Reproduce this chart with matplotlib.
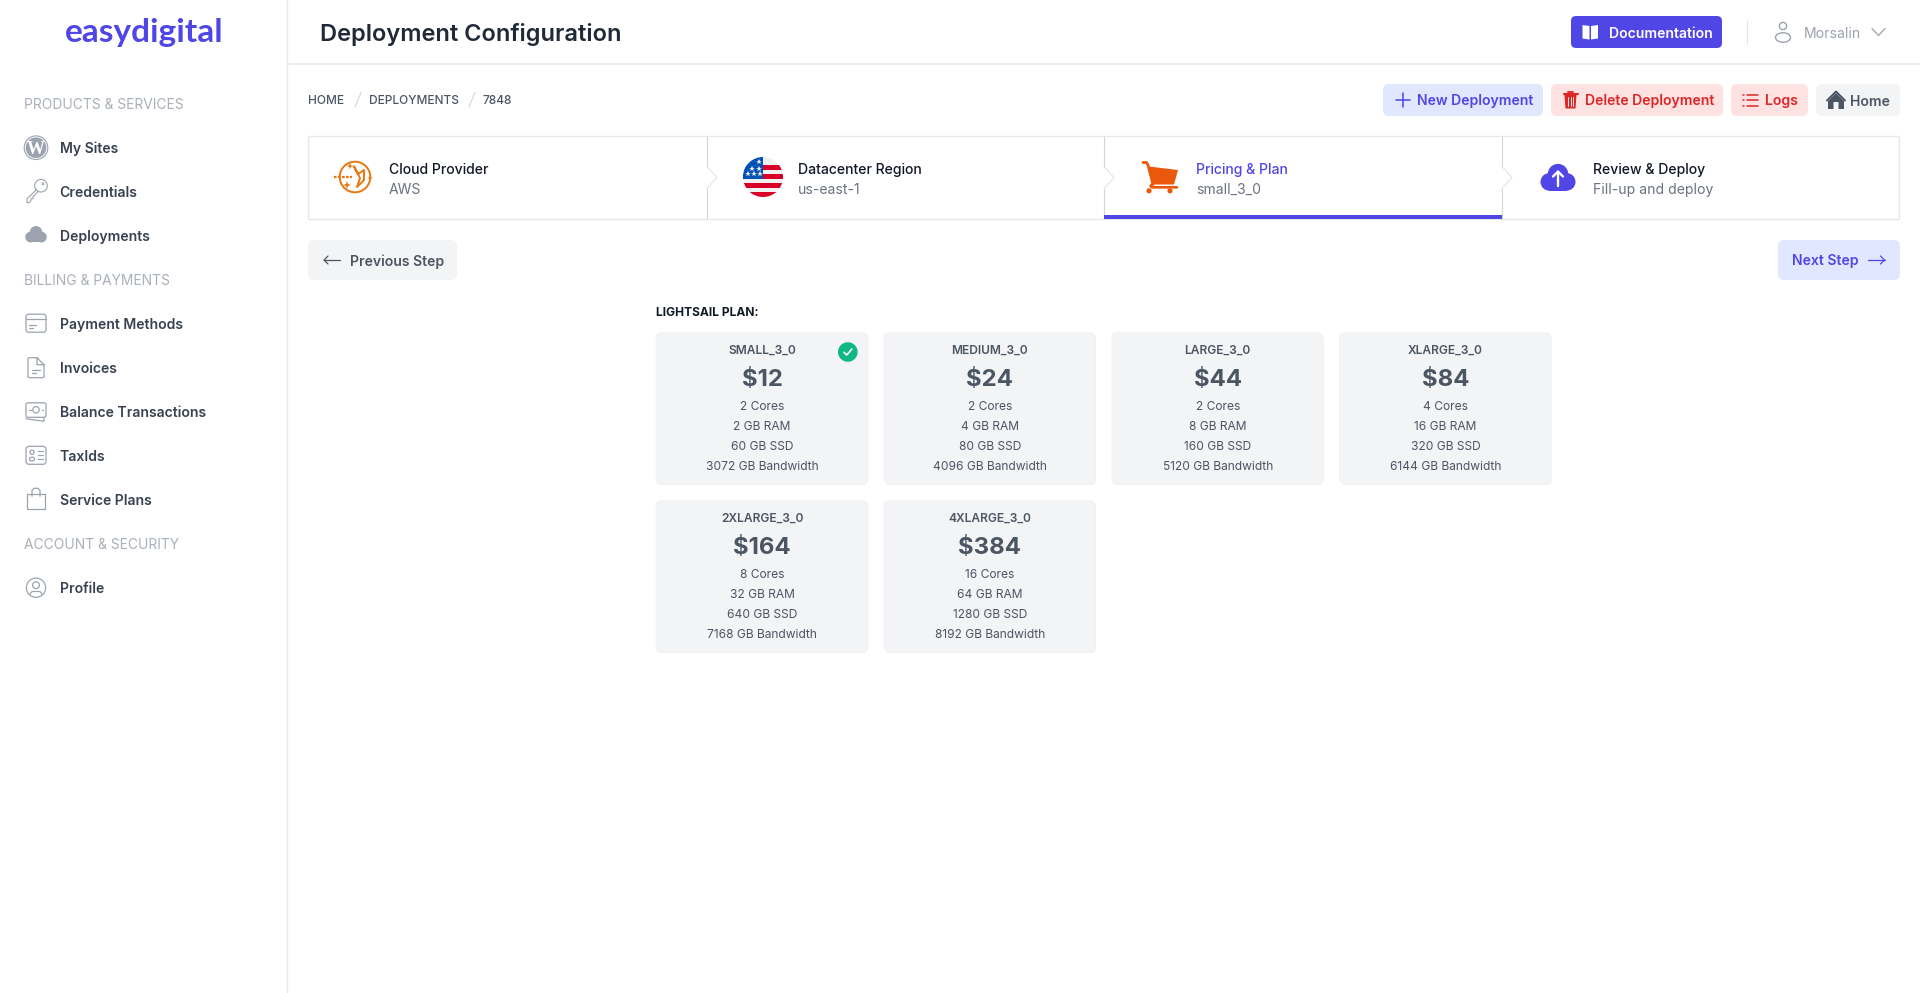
import matplotlib
matplotlib.use('Agg')
import matplotlib.pyplot as plt
from matplotlib.patches import Circle, Ellipse, FancyBboxPatch, Polygon, Rectangle

# page data
page_title = 'Deployment Configuration'
logo_text = 'easydigital'
user_name = 'Morsalin'
crumbs = ['HOME', 'DEPLOYMENTS', '7848']
crumb_x = [308, 368.6, 482.4]

nav_labels = ['My Sites', 'Credentials', 'Deployments', 'Payment Methods', 'Invoices',
              'Balance Transactions', 'TaxIds', 'Service Plans', 'Profile']
nav_y = [147.7, 191.7, 235.7, 323.7, 367.7, 411.3, 455.3, 499.3, 587.7]
nav_heads = ['PRODUCTS & SERVICES', 'BILLING & PAYMENTS', 'ACCOUNT & SECURITY']
nav_head_y = [103.7, 279.5, 543.3]

step_titles = ['Cloud Provider', 'Datacenter Region', 'Pricing & Plan', 'Review & Deploy']
step_subs = ['AWS', 'us-east-1', 'small_3_0', 'Fill-up and deploy']
step_x = [389, 798.2, 1195.8, 1593]
step_dividers = [707, 1104, 1502]

plan_names = ['SMALL_3_0', 'MEDIUM_3_0', 'LARGE_3_0', 'XLARGE_3_0', '2XLARGE_3_0', '4XLARGE_3_0']
plan_prices = [12, 24, 44, 84, 164, 384]
plan_cores = [2, 2, 2, 4, 8, 16]
plan_ram = [2, 4, 8, 16, 32, 64]
plan_ssd = [60, 80, 160, 320, 640, 1280]
plan_bandwidth = [3072, 4096, 5120, 6144, 7168, 8192]

INDIGO = '#4f46e5'
GRAY9 = '#9ca3af'
GRAY6 = '#4b5563'
GRAY7 = '#374151'
LINE = '#e5e7eb'
ICON = '#9ca3af'

plt.rcParams['font.family'] = ['Inter', 'DejaVu Sans']

fig = plt.figure(figsize=(19.2, 9.93), dpi=100, facecolor='white')
ax = fig.add_axes([0, 0, 1, 1])
ax.set_xlim(0, 1920)
ax.set_ylim(993, 0)
ax.axis('off')


def px(n):
    return n * 0.72


def txt(x, y, s, size=14, color=GRAY7, weight='normal', ha='left', **kw):
    ax.text(x, y, s, fontsize=px(size), color=color, fontweight=weight, ha=ha, va='center_baseline', **kw)


def box(x0, y0, x1, y1, fc, r=6, ec='none', lw=0, z=1):
    ax.add_patch(FancyBboxPatch((x0 + r, y0 + r), x1 - x0 - 2 * r, y1 - y0 - 2 * r,
                                boxstyle=f'round,pad={r},rounding_size={r}', fc=fc, ec=ec, lw=lw, zorder=z))


def line(xs, ys, color=ICON, lw=0.9, z=3, **kw):
    ax.plot(xs, ys, color=color, lw=lw, zorder=z, solid_capstyle='round', solid_joinstyle='round', **kw)


def circ(x, y, r, fc='none', ec='none', lw=0, z=3):
    ax.add_patch(Circle((x, y), r, fc=fc, ec=ec, lw=lw, zorder=z))


def cloud(cx, cy, w, color, z=3):
    # cx, cy centre of the cloud, w its width
    s = w / 36
    circ(cx - 9 * s, cy + 4 * s, 9 * s, fc=color, z=z)
    circ(cx + 9 * s, cy + 4 * s, 9 * s, fc=color, z=z)
    circ(cx, cy - 4 * s, 10.5 * s, fc=color, z=z)
    ax.add_patch(Rectangle((cx - 9 * s, cy + 2 * s), 18 * s, 11 * s, fc=color, ec='none', zorder=z))


# frame
line([287.3, 287.3], [0, 993], color=LINE, lw=0.9, z=2)
line([287.3, 1920], [63.6, 63.6], color=LINE, lw=1.1, z=2)

# logo and title
txt(144.5, 30, logo_text, 33.4, INDIGO, 'bold', ha='center', family=['Lato', 'DejaVu Sans'])
txt(320, 32, page_title, 23.6, '#1f2937', 'semibold')

# sidebar
for s, y in zip(nav_heads, nav_head_y):
    txt(24, y, s, 13.8, '#a9afb9')
for s, y in zip(nav_labels, nav_y):
    txt(59.6, y, s, 14, GRAY7, 'semibold')

# wordpress
y = nav_y[0]
circ(36, y, 11.8, ec=ICON, lw=0.8)
circ(36, y, 10.3, fc=ICON)
txt(36, y + 0.3, 'W', 18, 'white', 'bold', ha='center', family=['Liberation Serif', 'DejaVu Sans'], zorder=4)
# key
y = nav_y[1]
circ(41, y - 6, 6.3, fc='white', ec=ICON, lw=0.8)
line([36.5, 27, 27, 29, 31, 31, 33, 33, 38.5], [y - 2, y + 7, y + 11, y + 11, y + 9, y + 7, y + 7, y + 5, y - 0.5], lw=0.8)
circ(43, y - 8, 1, ec=ICON, lw=0.7)
# cloud
cloud(36, nav_y[2] - 1, 21.5, ICON)
# card
y = nav_y[3]
box(26, y - 9.5, 46, y + 8.5, 'none', r=2.5, ec=ICON, lw=0.9, z=3)
line([26, 46], [y - 4.5, y - 4.5])
line([29, 36], [y + 1.5, y + 1.5])
line([29, 33], [y + 4.5, y + 4.5])
# invoice
y = nav_y[4]
line([37, 29, 28, 28, 29, 43, 44, 44, 37, 37, 44],
     [y - 10, y - 10, y - 9, y + 9, y + 10, y + 10, y + 9, y - 3, y - 10, y - 3, y - 3])
line([32, 40], [y + 2.5, y + 2.5])
line([32, 36], [y + 5.5, y + 5.5])
# banknote
y = nav_y[5]
box(26, y - 8.5, 46, y + 6, 'none', r=2, ec=ICON, lw=0.9, z=3)
circ(36, y - 1.5, 3.2, ec=ICON, lw=0.9)
line([29, 30.5], [y - 1.5, y - 1.5])
line([41.5, 43], [y - 1.5, y - 1.5])
line([26, 44, 44], [y + 7.5, y + 10, y + 7])
# id card
y = nav_y[6]
box(26, y - 9, 46, y + 9, 'none', r=3, ec=ICON, lw=0.9, z=3)
circ(32, y - 3, 2, ec=ICON, lw=0.9)
box(29.5, y + 2, 34.5, y + 5.5, 'none', r=1.6, ec=ICON, lw=0.9, z=3)
for dy in [-4, 0, 4]:
    line([38, 43], [y + dy, y + dy])
# bag
y = nav_y[7]
line([28, 27, 27, 45, 45, 44, 28], [y - 5.5, y - 5.5, y + 10, y + 10, y - 5.5, y - 5.5, y - 5.5])
line([32, 32, 34, 38, 40, 40], [y - 3, y - 9, y - 11, y - 11, y - 9, y - 3])
# profile
y = nav_y[8]
circ(36, y, 9.6, ec=ICON, lw=0.9)
circ(36, y - 2.5, 3.4, ec=ICON, lw=0.9)
line([29.5, 32, 40, 42.5], [y + 7, y + 3.8, y + 3.8, y + 7])

# top right
box(1571, 16, 1722, 48, INDIGO, r=5)
txt(1609, 32, 'Documentation', 14, 'white', 'semibold')
ax.add_patch(Polygon([(1582.5, 25), (1589.5, 26), (1589.5, 39.5), (1582.5, 38.5)], fc='white', ec='none', zorder=3))
ax.add_patch(Polygon([(1591, 26), (1598, 25), (1598, 38.5), (1591, 39.5)], fc='white', ec='none', zorder=3))
line([1746.5, 1746.5], [20, 44], color=LINE, lw=0.8)
circ(1783, 26, 3.6, ec=GRAY9, lw=1)
ax.add_patch(Ellipse((1783, 37.5), 15, 9.5, fc='none', ec=GRAY9, lw=1, zorder=3))
txt(1803.7, 32, user_name, 14, GRAY9)
line([1872, 1878.5, 1885], [28.5, 35.5, 28.5], color=GRAY9, lw=0.9)

# breadcrumb
for s, x in zip(crumbs, crumb_x):
    txt(x, 99.7, s, 11.9, GRAY6, 'medium')
for x in [358, 472]:
    line([x - 3, x + 3], [107, 92.5], color='#d1d5db', lw=0.8)

# action buttons
box(1383, 84, 1543, 116, '#e0e7ff')
box(1551, 84, 1723, 116, '#fee2e2')
box(1731, 84, 1808, 116, '#fee2e2')
box(1816, 84, 1900, 116, '#f3f4f6')
txt(1417, 100, 'New Deployment', 14, INDIGO, 'semibold')
txt(1585, 100, 'Delete Deployment', 14, '#dc2626', 'semibold')
txt(1765, 100, 'Logs', 14, '#dc2626', 'semibold')
txt(1850, 100, 'Home', 14, GRAY6, 'semibold')
line([1395.5, 1409.5], [100, 100], color=INDIGO, lw=1.1)
line([1402.5, 1402.5], [93, 107], color=INDIGO, lw=1.1)
# trash
ax.add_patch(Polygon([(1564.5, 95), (1576.5, 95), (1575.5, 108.5), (1565.5, 108.5)], fc='#dc2626', ec='none', zorder=3))
line([1563.5, 1577.5], [93.5, 93.5], color='#dc2626', lw=1.5)
line([1568, 1573], [91.5, 91.5], color='#dc2626', lw=1.3)
for x in [1568, 1570.5, 1573]:
    line([x, x], [97, 106], color='#fee2e2', lw=0.7, z=4)
# list
for y in [94.5, 100, 105.5]:
    line([1743, 1744], [y, y], color='#dc2626', lw=1.1)
    line([1747, 1758], [y, y], color='#dc2626', lw=1.1)
# house
ax.add_patch(Polygon([(1828, 101), (1836, 93), (1844, 101), (1844, 109), (1838.5, 109), (1838.5, 102),
                      (1833.5, 102), (1833.5, 109), (1828, 109)], fc=GRAY6, ec='none', zorder=3))
line([1827, 1836, 1845], [100.5, 91.5, 100.5], color=GRAY6, lw=1.4)

# stepper
ax.add_patch(Rectangle((308.2, 136.2), 1591, 83, fc='white', ec=LINE, lw=0.9, zorder=1))
ax.add_patch(Rectangle((1104.3, 215), 397.7, 4, fc=INDIGO, ec='none', zorder=3))
for x in step_dividers:
    line([x, x], [137, 166.5], color='#d1d5db', lw=0.8, z=2)
    line([x, x], [188.5, 219], color='#d1d5db', lw=0.8, z=2)
    line([x, x + 10, x], [166.5, 177.5, 188.5], color=LINE, lw=0.9, z=2)
for i, (t, s, x) in enumerate(zip(step_titles, step_subs, step_x)):
    txt(x, 168.7, t, 14, INDIGO if i == 2 else '#111827', 'medium')
    txt(x, 188.7, s, 14, '#6b7280')

# aws icon
O = '#e8770f'
ax.add_patch(Circle((355, 177), 15.3, fc='none', ec=O, lw=1.4, zorder=3))
ax.plot([334, 352], [177, 177], color=O, lw=1.6, ls=(0, (1.2, 0.6)), zorder=4)
line([354, 358, 364, 364, 357, 360, 354], [166.5, 174, 170, 180, 187, 178, 166.5], color=O, lw=1.4)
for (sx, sy, r) in [(350, 166, 3.4), (347, 185, 4), (370, 178, 2.8)]:
    ax.add_patch(Polygon([(sx - r, sy), (sx - r / 4, sy - r / 4), (sx, sy - r), (sx + r / 4, sy - r / 4), (sx + r, sy),
                          (sx + r / 4, sy + r / 4), (sx, sy + r), (sx - r / 4, sy + r / 4)], fc=O, ec='none', zorder=4))

# flag
cx, cy, R = 763, 177, 20
clip = Circle((cx, cy), R, transform=ax.transData)
stripes = [('#f0f0f0', -20, 40), ('#d80027', -12, 5), ('#d80027', -3, 5), ('#d80027', 6, 5), ('#d80027', 15, 5)]
for c, dy, h in stripes:
    ax.add_patch(Rectangle((cx - R, cy + dy), 2 * R, h, fc=c, ec='none', zorder=3, clip_path=clip))
ax.add_patch(Rectangle((cx - R, cy - R), R, R + 1.5, fc='#0052b4', ec='none', zorder=4, clip_path=clip))
for sx, sy in [(-4, -15), (-11, -8.5), (-4, -8.5), (-15, -3), (-9, -3), (-3, -3)]:
    ax.plot(cx + sx, cy + sy, marker='*', ms=4.2, color='#f0f0f0', mew=0, zorder=5)

# cart
C = '#ea580c'
ax.add_patch(Polygon([(1149, 166.5), (1178, 170), (1174, 184.5), (1153, 184.5)], fc=C, ec='none', zorder=3))
line([1143, 1146.5, 1148, 1153], [162.5, 162.5, 165, 184.5], color=C, lw=2)
line([1177, 1152, 1150.5, 1152.5], [187.3, 187.3, 186, 184], color=C, lw=1.9)
circ(1149, 190.8, 2.6, fc=C)
circ(1170, 190.8, 2.6, fc=C)

# upload cloud
cloud(1558, 178, 35, INDIGO)
line([1558, 1558], [186, 172], color='white', lw=1.7, z=5)
line([1553, 1558, 1563], [176.5, 171.5, 176.5], color='white', lw=1.7, z=5)

# step buttons
box(308, 240, 457, 280, '#f3f4f6')
box(1778, 240, 1900, 280, '#e0e7ff')
txt(350, 260, 'Previous Step', 14, GRAY6, 'semibold')
txt(1792, 260, 'Next Step', 14, INDIGO, 'semibold')
line([324, 340], [260, 260], color=GRAY6)
line([328, 324, 328], [256, 260, 264], color=GRAY6)
line([1868, 1884.5], [260, 260], color=INDIGO)
line([1880.5, 1884.5, 1880.5], [256, 260, 264], color=INDIGO)

# plan cards
txt(656, 311.7, 'LIGHTSAIL PLAN:', 12, '#111827', 'bold')
for i, name in enumerate(plan_names):
    x0 = 655.7 + (i % 4) * 227.8
    y0 = 332 + (i // 4) * 168
    xc = x0 + 106.4
    box(x0 + 0.5, y0 + 1, x0 + 212.5, y0 + 152.8, '#ebedf0', z=1)
    box(x0, y0, x0 + 212, y0 + 152, '#f3f4f6', z=2)
    txt(xc, y0 + 17.7, name, 12, GRAY6, 'semibold', ha='center')
    txt(xc, y0 + 45.5, f'${plan_prices[i]}', 24, GRAY6, 'bold', ha='center')
    txt(xc, y0 + 73.7, f'{plan_cores[i]} Cores', 12, GRAY6, ha='center')
    txt(xc, y0 + 93.7, f'{plan_ram[i]} GB RAM', 12, GRAY6, ha='center')
    txt(xc, y0 + 113.5, f'{plan_ssd[i]} GB SSD', 12, GRAY6, ha='center')
    txt(xc, y0 + 133.5, f'{plan_bandwidth[i]} GB Bandwidth', 12, GRAY6, ha='center')

# selected mark
circ(847.8, 352, 9.8, fc='#10b981', z=4)
line([844, 846.8, 851.8], [352.3, 355, 349], color='white', lw=1.2, z=5)

fig.savefig('out.png', dpi=100, facecolor='white')
